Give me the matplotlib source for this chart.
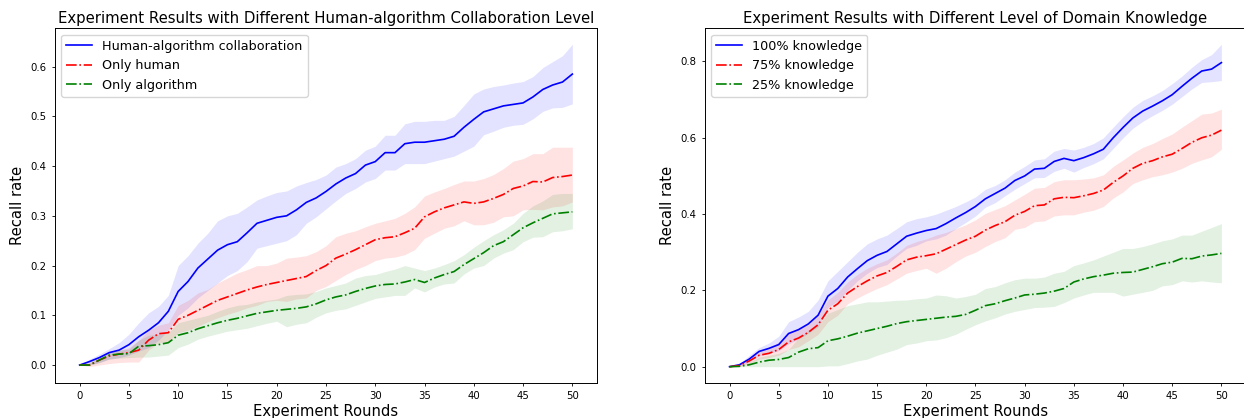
import numpy as np
from matplotlib import pyplot as plt

##########################################################################
#
#   Data
#
##########################################################################

rounds = list(range(51))

# left panel: collaboration level
collab_mean = [0, 0.007, 0.015, 0.025, 0.03, 0.041, 0.057, 0.07, 0.085, 0.108,
               0.148, 0.168, 0.195, 0.213, 0.231, 0.242, 0.248, 0.266, 0.285, 0.291,
               0.297, 0.30, 0.312, 0.327, 0.336, 0.349, 0.364, 0.376, 0.385, 0.402,
               0.409, 0.427, 0.427, 0.445, 0.448, 0.448, 0.451, 0.454, 0.46, 0.478,
               0.494, 0.509, 0.515, 0.521, 0.524, 0.527, 0.539, 0.554, 0.563, 0.569,
               0.585]
collab_up = [0, 0.012, 0.022, 0.033, 0.045, 0.062, 0.085, 0.105, 0.118, 0.14,
             0.2, 0.22, 0.245, 0.265, 0.29, 0.3, 0.305, 0.318, 0.332, 0.34,
             0.347, 0.35, 0.36, 0.367, 0.373, 0.382, 0.398, 0.405, 0.415, 0.432,
             0.44, 0.462, 0.462, 0.485, 0.49, 0.49, 0.492, 0.492, 0.5, 0.522,
             0.545, 0.555, 0.56, 0.563, 0.567, 0.57, 0.58, 0.598, 0.61, 0.622,
             0.645]
collab_lo = [0, 0.0, 0.005, 0.012, 0.015, 0.02, 0.028, 0.035, 0.05, 0.07,
             0.1, 0.115, 0.135, 0.15, 0.165, 0.18, 0.19, 0.208, 0.235, 0.24,
             0.245, 0.25, 0.262, 0.285, 0.298, 0.314, 0.33, 0.345, 0.355, 0.368,
             0.375, 0.392, 0.392, 0.405, 0.405, 0.405, 0.41, 0.415, 0.42, 0.43,
             0.44, 0.463, 0.47, 0.478, 0.482, 0.484, 0.495, 0.51, 0.517, 0.518,
             0.525]

human_mean = [0, 0.0, 0.01, 0.018, 0.022, 0.025, 0.03, 0.05, 0.063, 0.065,
              0.092, 0.1, 0.11, 0.12, 0.13, 0.137, 0.144, 0.151, 0.157, 0.162,
              0.166, 0.17, 0.174, 0.178, 0.19, 0.2, 0.215, 0.223, 0.232, 0.242,
              0.252, 0.256, 0.258, 0.266, 0.275, 0.298, 0.308, 0.316, 0.322, 0.328,
              0.325, 0.328, 0.335, 0.343, 0.355, 0.36, 0.369, 0.368, 0.377, 0.379,
              0.382]
human_up = [0, 0.005, 0.015, 0.025, 0.03, 0.035, 0.05, 0.07, 0.08, 0.085,
            0.12, 0.13, 0.145, 0.152, 0.165, 0.175, 0.185, 0.192, 0.2, 0.2,
            0.205, 0.215, 0.217, 0.22, 0.228, 0.24, 0.258, 0.265, 0.27, 0.278,
            0.285, 0.29, 0.295, 0.305, 0.318, 0.34, 0.348, 0.355, 0.363, 0.37,
            0.37, 0.375, 0.383, 0.395, 0.41, 0.415, 0.425, 0.425, 0.438, 0.438,
            0.438]
human_lo = [0, -0.003, 0.0, 0.003, 0.005, 0.006, 0.006, 0.03, 0.045, 0.046,
            0.065, 0.07, 0.078, 0.087, 0.095, 0.102, 0.108, 0.115, 0.12, 0.128,
            0.13, 0.128, 0.133, 0.135, 0.15, 0.158, 0.17, 0.182, 0.192, 0.2,
            0.21, 0.215, 0.217, 0.222, 0.232, 0.255, 0.265, 0.275, 0.28, 0.29,
            0.282, 0.282, 0.287, 0.298, 0.3, 0.312, 0.313, 0.312, 0.318, 0.32,
            0.328]

algo_mean = [0, 0, 0.01, 0.02, 0.022, 0.023, 0.038, 0.039, 0.041, 0.045,
             0.06, 0.065, 0.073, 0.079, 0.085, 0.09, 0.094, 0.099, 0.104, 0.107,
             0.11, 0.112, 0.114, 0.117, 0.123, 0.131, 0.137, 0.141, 0.148, 0.154,
             0.159, 0.162, 0.163, 0.167, 0.172, 0.166, 0.175, 0.182, 0.188, 0.202,
             0.214, 0.226, 0.24, 0.248, 0.262, 0.276, 0.286, 0.295, 0.304, 0.306,
             0.308]
algo_up = [0, 0.004, 0.014, 0.027, 0.03, 0.032, 0.05, 0.06, 0.062, 0.065,
           0.085, 0.09, 0.095, 0.1, 0.108, 0.115, 0.12, 0.122, 0.127, 0.13,
           0.133, 0.14, 0.142, 0.143, 0.148, 0.155, 0.16, 0.165, 0.175, 0.18,
           0.182, 0.188, 0.193, 0.2, 0.195, 0.19, 0.195, 0.202, 0.21, 0.222,
           0.237, 0.25, 0.262, 0.272, 0.285, 0.305, 0.32, 0.33, 0.343, 0.345,
           0.345]
algo_lo = [0, 0.0, 0.005, 0.012, 0.014, 0.015, 0.016, 0.016, 0.018, 0.02,
           0.035, 0.042, 0.052, 0.058, 0.063, 0.068, 0.071, 0.074, 0.079, 0.084,
           0.088, 0.077, 0.082, 0.085, 0.096, 0.105, 0.11, 0.113, 0.12, 0.127,
           0.134, 0.137, 0.14, 0.14, 0.155, 0.147, 0.157, 0.163, 0.165, 0.183,
           0.195, 0.2, 0.215, 0.225, 0.232, 0.248, 0.257, 0.258, 0.268, 0.27,
           0.274]

# right panel: domain knowledge
k100_mean = [0, 0.005, 0.02, 0.04, 0.048, 0.058, 0.087, 0.097, 0.112, 0.135,
             0.185, 0.205, 0.235, 0.257, 0.278, 0.292, 0.302, 0.322, 0.342, 0.35,
             0.357, 0.362, 0.375, 0.39, 0.404, 0.42, 0.44, 0.454, 0.468, 0.488,
             0.5, 0.518, 0.52, 0.538, 0.546, 0.54, 0.548, 0.558, 0.57, 0.6,
             0.627, 0.652, 0.67, 0.683, 0.697, 0.713, 0.735, 0.756, 0.775, 0.78,
             0.797]
k100_up = [0, 0.008, 0.03, 0.05, 0.062, 0.08, 0.118, 0.13, 0.145, 0.175,
           0.225, 0.25, 0.275, 0.3, 0.322, 0.335, 0.345, 0.362, 0.38, 0.388,
           0.393, 0.4, 0.41, 0.42, 0.432, 0.445, 0.465, 0.475, 0.49, 0.51,
           0.525, 0.542, 0.545, 0.565, 0.572, 0.568, 0.575, 0.585, 0.6, 0.628,
           0.655, 0.68, 0.698, 0.71, 0.724, 0.742, 0.762, 0.785, 0.805, 0.818,
           0.845]
k100_lo = [0, 0.002, 0.012, 0.028, 0.035, 0.042, 0.06, 0.072, 0.088, 0.105,
           0.155, 0.172, 0.2, 0.225, 0.245, 0.26, 0.268, 0.29, 0.31, 0.318,
           0.33, 0.335, 0.345, 0.362, 0.378, 0.395, 0.418, 0.43, 0.448, 0.465,
           0.48, 0.495, 0.496, 0.512, 0.52, 0.51, 0.522, 0.532, 0.545, 0.572,
           0.6, 0.625, 0.643, 0.658, 0.672, 0.688, 0.708, 0.728, 0.745, 0.747,
           0.75]

k75_mean = [0, 0.003, 0.015, 0.03, 0.035, 0.045, 0.065, 0.075, 0.09, 0.11,
            0.148, 0.165, 0.193, 0.21, 0.225, 0.238, 0.247, 0.263, 0.28, 0.287,
            0.291, 0.296, 0.308, 0.32, 0.332, 0.342, 0.358, 0.37, 0.38, 0.397,
            0.407, 0.422, 0.424, 0.44, 0.444, 0.443, 0.448, 0.454, 0.463, 0.483,
            0.5, 0.52, 0.533, 0.54, 0.55, 0.557, 0.572, 0.588, 0.6, 0.607,
            0.62]
k75_up = [0, 0.006, 0.022, 0.042, 0.05, 0.065, 0.09, 0.1, 0.11, 0.135,
          0.175, 0.195, 0.222, 0.242, 0.258, 0.27, 0.28, 0.298, 0.318, 0.328,
          0.335, 0.345, 0.352, 0.362, 0.372, 0.385, 0.402, 0.412, 0.422, 0.437,
          0.452, 0.468, 0.47, 0.485, 0.49, 0.49, 0.492, 0.495, 0.503, 0.525,
          0.542, 0.56, 0.575, 0.585, 0.598, 0.61, 0.628, 0.645, 0.662, 0.665,
          0.675]
k75_lo = [0, 0.0, 0.008, 0.02, 0.024, 0.03, 0.045, 0.052, 0.068, 0.085,
          0.118, 0.135, 0.165, 0.18, 0.193, 0.205, 0.215, 0.23, 0.245, 0.252,
          0.258, 0.245, 0.258, 0.275, 0.29, 0.3, 0.315, 0.328, 0.338, 0.36,
          0.365, 0.38, 0.382, 0.395, 0.398, 0.398, 0.405, 0.41, 0.42, 0.442,
          0.458, 0.48, 0.49, 0.498, 0.503, 0.51, 0.52, 0.533, 0.542, 0.55,
          0.57]

k25_mean = [0, 0.001, 0.005, 0.012, 0.017, 0.019, 0.024, 0.038, 0.047, 0.05,
            0.068, 0.073, 0.08, 0.088, 0.094, 0.1, 0.106, 0.113, 0.118, 0.121,
            0.124, 0.127, 0.13, 0.132, 0.137, 0.148, 0.16, 0.165, 0.173, 0.18,
            0.188, 0.19, 0.193, 0.198, 0.205, 0.222, 0.23, 0.236, 0.24, 0.245,
            0.247, 0.248, 0.255, 0.262, 0.27, 0.274, 0.284, 0.283, 0.29, 0.293,
            0.297]
k25_up = [0, 0.002, 0.012, 0.025, 0.03, 0.035, 0.045, 0.075, 0.095, 0.11,
          0.14, 0.15, 0.16, 0.165, 0.17, 0.17, 0.172, 0.174, 0.175, 0.178,
          0.18, 0.188, 0.186, 0.18, 0.184, 0.19, 0.205, 0.21, 0.22, 0.228,
          0.232, 0.232, 0.235, 0.245, 0.25, 0.265, 0.272, 0.28, 0.29, 0.3,
          0.31, 0.31, 0.315, 0.322, 0.33, 0.335, 0.345, 0.345, 0.355, 0.365,
          0.375]
k25_lo = [0, 0.0, 0.0, 0.0, 0.0, 0.0, 0.0, 0.0, 0.0, 0.0,
          0.002, 0.002, 0.008, 0.015, 0.02, 0.03, 0.038, 0.046, 0.058, 0.062,
          0.068, 0.07, 0.076, 0.085, 0.098, 0.11, 0.12, 0.128, 0.138, 0.145,
          0.15, 0.155, 0.156, 0.158, 0.168, 0.18, 0.188, 0.195, 0.195, 0.195,
          0.185, 0.19, 0.195, 0.2, 0.212, 0.215, 0.225, 0.222, 0.225, 0.222,
          0.22]

left_labels = ['Human-algorithm collaboration', 'Only human', 'Only algorithm']
right_labels = ['100% knowledge', '75% knowledge', '25% knowledge']

##########################################################################
#
#   Functions
#
##########################################################################


def drawPanel(ax, series, labels, title):
    styles = [('b', '-'), ('r', '-.'), ('g', '-.')]
    for (mean, lo, up), label, (c, ls) in zip(series, labels, styles):
        ax.plot(rounds, mean, color=c, linestyle=ls, linewidth=1.2, label=label)
        ax.fill_between(rounds, lo, up, color=c, alpha=0.11, linewidth=0)

    ax.set_title(title, fontsize=10.7, pad=4)
    ax.set_xlabel('Experiment Rounds', fontsize=10.6, labelpad=2)
    ax.set_ylabel('Recall rate', fontsize=10.6, labelpad=4)
    ax.set_xticks(np.arange(0, 51, 5))
    ax.tick_params(labelsize=7.3, length=2.5, width=0.6)
    for s in ax.spines.values():
        s.set_linewidth(0.7)
    ax.legend(loc='upper left', fontsize=9.2)


fig = plt.figure(figsize=(12.44, 4.18), dpi=100)
ax1 = fig.add_axes([0.0442, 0.0844, 0.4357, 0.8479])
ax2 = fig.add_axes([0.5667, 0.0844, 0.4349, 0.8479])

drawPanel(ax1,
          [(collab_mean, collab_lo, collab_up),
           (human_mean, human_lo, human_up),
           (algo_mean, algo_lo, algo_up)],
          left_labels,
          'Experiment Results with Different Human-algorithm Collaboration Level')
ax1.set_ylim(-0.0355, 0.677)
ax1.set_yticks(np.arange(0, 0.61, 0.1))

drawPanel(ax2,
          [(k100_mean, k100_lo, k100_up),
           (k75_mean, k75_lo, k75_up),
           (k25_mean, k25_lo, k25_up)],
          right_labels,
          'Experiment Results with Different Level of Domain Knowledge')
ax2.set_ylim(-0.042, 0.887)
ax2.set_yticks(np.arange(0, 0.81, 0.2))

fig.savefig('out.png', dpi=100)
